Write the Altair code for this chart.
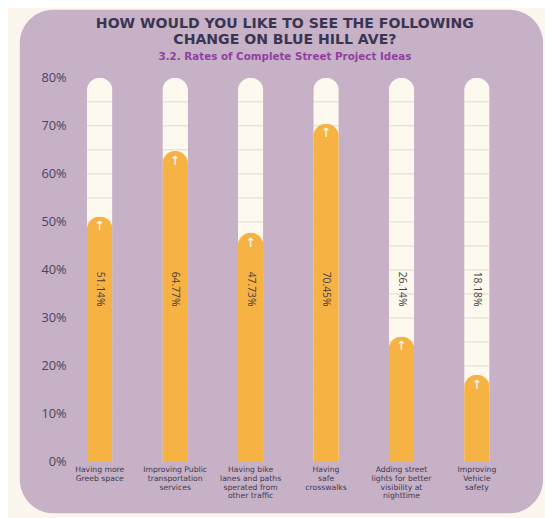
import altair as alt
import pandas as pd

categories = [
    "Having more|Greeb space",
    "Improving Public|transportation|services",
    "Having bike|lanes and paths|sperated from|other traffic",
    "Having|safe|crosswalks",
    "Adding street|lights for better|visibility at|nighttime",
    "Improving|Vehicle|safety",
]
values = [51.14, 64.77, 47.73, 70.45, 26.14, 18.18]
value_labels = ["51.14%", "64.77%", "47.73%", "70.45%", "26.14%", "18.18%"]
y_ticks = [0, 10, 20, 30, 40, 50, 60, 70, 80]
tube_lines = [5, 10, 15, 20, 25, 30, 35, 40, 45, 50, 55, 60, 65, 70, 75]
y_max = 80
label_level = 36
title_lines = ["HOW WOULD YOU LIKE TO SEE THE FOLLOWING", "CHANGE ON BLUE HILL AVE?"]
subtitle_text = "3.2. Rates of Complete Street Project Ideas"

PURPLE = "#c6b1c6"
CREAM = "#fdf9ef"
ORANGE = "#f6b243"
DARK = "#3f3a4e"

df = pd.DataFrame({"cat": categories, "value": values, "label": value_labels, "top": [y_max] * len(categories)})
lines_df = pd.DataFrame([{"cat": c, "v": v} for c in categories for v in tube_lines])
one = pd.DataFrame({"a": [0]})

x_enc = alt.X(
    "cat:N",
    sort=None,
    scale=alt.Scale(paddingInner=0.66, paddingOuter=0.21),
    axis=alt.Axis(
        title=None, labelAngle=0, ticks=False, domain=False, zindex=2,
        labelExpr="split(datum.label, '|')",
        labelFontSize=7.8, labelLineHeight=8.8, labelColor=DARK,
        labelFont="DejaVu Sans", labelPadding=4, labelBaseline="top", labelLimit=0,
    ),
)
y_scale = alt.Scale(domain=[0, y_max], nice=False)
y_axis = alt.Axis(
    title=None, values=y_ticks, labelExpr="datum.value + '%'", grid=False,
    ticks=False, domain=False, labelFontSize=13, labelColor="#4a4560", zindex=2,
    labelFont="Open Sans", labelPadding=5,
)

panel = alt.Chart(one).mark_rect(
    color=PURPLE, cornerRadius=34
).encode(
    x=alt.value(-52), x2=alt.value(479), y=alt.value(-69), y2=alt.value(442)
)

title1 = alt.Chart(one).mark_text(
    text=title_lines[0], font="DejaVu Sans", fontWeight="bold", fontSize=14.3,
    color="#3b3552", align="center", baseline="middle"
).encode(x=alt.value(217), y=alt.value(-54.5))
title2 = alt.Chart(one).mark_text(
    text=title_lines[1], font="DejaVu Sans", fontWeight="bold", fontSize=14.3,
    color="#3b3552", align="center", baseline="middle"
).encode(x=alt.value(217), y=alt.value(-38))
subtitle = alt.Chart(one).mark_text(
    text=subtitle_text, font="DejaVu Sans", fontWeight="bold", fontSize=10.5,
    color="#933fa2", align="center", baseline="middle"
).encode(x=alt.value(217), y=alt.value(-21.5))

base = alt.Chart(df).encode(x=x_enc)

tubes = base.mark_bar(
    color=CREAM, size=26, cornerRadiusTopLeft=13, cornerRadiusTopRight=13
).encode(y=alt.Y("top:Q", scale=y_scale, axis=y_axis))

lines = alt.Chart(lines_df).mark_tick(
    color="#d4ccc4", size=26, thickness=1
).encode(x=x_enc, y=alt.Y("v:Q", scale=y_scale))

fill = base.mark_bar(
    color=ORANGE, size=26, cornerRadiusTopLeft=13, cornerRadiusTopRight=13
).encode(y=alt.Y("value:Q", scale=y_scale))

arrows = base.mark_text(
    text="↑", color="white", fontSize=13, dy=10, font="DejaVu Sans"
).encode(y=alt.Y("value:Q", scale=y_scale))

texts = base.mark_text(
    angle=90, fontSize=10.5, color="#4a4040", font="Open Sans"
).encode(y=alt.datum(label_level), text="label:N")

chart = alt.layer(panel, title1, title2, subtitle, tubes, lines, fill, arrows, texts).properties(
    width=441,
    height=390,
    padding={"left": 64, "top": 67, "right": 40, "bottom": 53},
    autosize=alt.AutoSizeParams(type="none"),
).configure(background="#fcf6ee").configure_view(stroke=None)

chart.save("out.html", embed_options={"renderer": "svg", "actions": False})
